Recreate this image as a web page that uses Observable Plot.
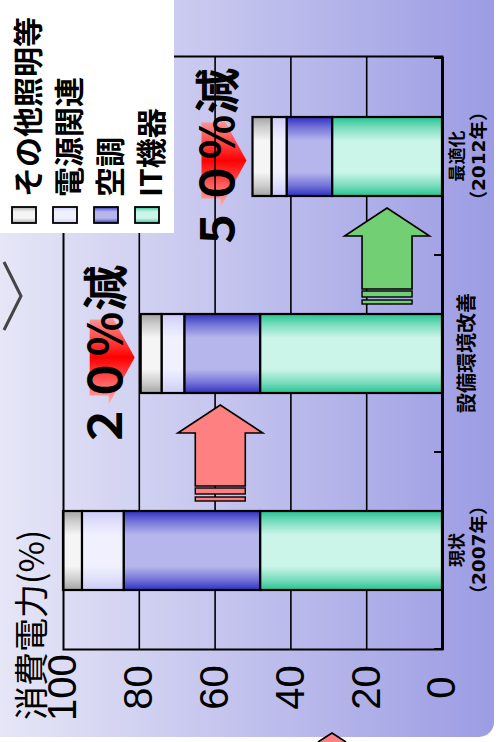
<!DOCTYPE html>
<html><head><meta charset="utf-8">
<script src="https://cdn.jsdelivr.net/npm/d3@7"></script>
<script src="https://cdn.jsdelivr.net/npm/@observablehq/plot@0.6"></script>
<style>
html,body{margin:0;padding:0;background:#fff;overflow:hidden;width:496px;height:742px;}
#wrap{position:absolute;left:0;top:0;width:742px;height:496px;transform-origin:0 0;transform:translate(0px,742px) rotate(-90deg);}
</style></head><body><div id="wrap"></div>
<script>
// ---------- data ----------
const categories = ["現状", "設備環境改善", "最適化"];
const categoryLine1 = ["現状", "設備環境改善", "最適化"];
const categoryLine2 = ["（2007年）", "", "（2012年）"];
const seriesNames = ["IT機器", "空調", "電源関連", "その他照明等"];
const itValues = [48, 48, 29];
const hvacValues = [36, 20, 12];
const powerValues = [11, 6, 4];
const otherValues = [5, 5.5, 5];
const yTicks = [0, 20, 40, 60, 80, 100];
const axisTitle = "消費電力(%)";
const reductionLabels = ["", "２０％減", "５０％減"];
const arrowFrom = ["現状", "設備環境改善"];
const arrowTo = ["設備環境改善", "最適化"];
const arrowLevels = [58.5, 14.5];

// ---------- derived tables ----------
const seriesValues = [itValues, hvacValues, powerValues, otherValues];
const rows = seriesNames.flatMap((s, si) => categories.map((c, ci) => ({category: c, series: s, value: seriesValues[si][ci]})));
const totals = categories.map((c, ci) => d3.sum(seriesValues, v => v[ci]));
const labelRows = categories.map((c, i) => ({c, l1: categoryLine1[i], l2: categoryLine2[i]}));
const reductionRows = categories.map((c, i) => ({c, label: reductionLabels[i], total: totals[i]})).filter(d => d.label);
const arrowRows = arrowFrom.map((f, i) => ({from: f, to: arrowTo[i], level: arrowLevels[i]}));

// ---------- styling ----------
const W = 742, H = 496, ML = 92, MR = 57, MT = 63, MB = 54;
const JP = "'Noto Sans CJK JP', 'Noto Sans', sans-serif";
const gradStops = [["#26c391", "#cbf5e9"], ["#3030c2", "#b6b6ed"], ["#cbcbf7", "#f0f0ff"], ["#a4a4a4", "#f5f5f5"]];
const arrowColors = ["#ff8080", "#73cf73"];

function bandInfo(x) {
  const bw = typeof x.bandwidth === "function" ? x.bandwidth() : 0.4 * (W - ML - MR) / 3;
  const step = typeof x.step === "function" ? x.step() : (W - ML - MR) / 3;
  return {bw, step};
}

function backgroundMark() {
  const g = d3.create("svg:g");
  const defs = g.append("defs");
  gradStops.forEach(([edge, mid], i) => {
    const lg = defs.append("linearGradient").attr("id", "g" + i).attr("x1", 0).attr("x2", 1).attr("y1", 0).attr("y2", 0);
    const m = d3.interpolateRgb(edge, mid)(0.5);
    [[0, edge], [0.13, m], [0.3, mid], [0.7, mid], [0.87, m], [1, edge]].forEach(([o, c]) => lg.append("stop").attr("offset", o).attr("stop-color", c));
  });
  const bg = defs.append("linearGradient").attr("id", "bg").attr("x1", 0).attr("x2", 0).attr("y1", 0).attr("y2", 1);
  bg.append("stop").attr("offset", 0).attr("stop-color", "#e6e6f7");
  bg.append("stop").attr("offset", 1).attr("stop-color", "#9c9ce4");
  const rg = defs.append("linearGradient").attr("id", "rg").attr("x1", 0).attr("x2", 1).attr("y1", 0).attr("y2", 0);
  [[0, "#ffb4b4"], [0.5, "#ff0000"], [1, "#ffb4b4"]].forEach(([o, c]) => rg.append("stop").attr("offset", o).attr("stop-color", c));
  g.append("path").attr("d", "M742,0 H5 V479 A15,15 0 0 0 20,494 H742 Z").attr("fill", "url(#bg)");
  return g.node();
}

function redArrowMark(index, scales) {
  const g = d3.create("svg:g");
  const x = scales.x, y = scales.y;
  const {bw} = bandInfo(x);
  reductionRows.forEach(d => {
    const cx = x(d.c) + bw / 2 - 4;
    const tip = y(d.total) - 6;
    const top = tip - 45, hb = tip - 26;
    g.append("path")
      .attr("d", `M${cx - 38},${top} L${cx + 38},${top} L${cx + 38},${hb} L${cx + 47},${hb} L${cx},${tip} L${cx - 47},${hb} L${cx - 38},${hb} Z`)
      .attr("fill", "url(#rg)");
  });
  return g.node();
}

function boundaryTickMark(index, scales) {
  const g = d3.create("svg:g");
  const x = scales.x, y = scales.y;
  const {bw, step} = bandInfo(x);
  const gap = (step - bw) / 2;
  const pos = categories.map(c => x(c) - gap).concat([x(categories[categories.length - 1]) + bw + gap]);
  pos.forEach(p => g.append("line").attr("x1", p).attr("x2", p).attr("y1", y(0)).attr("y2", y(0) - 8).attr("stroke", "black").attr("stroke-width", 2));
  return g.node();
}

function transitionArrowMark(index, scales) {
  const g = d3.create("svg:g");
  const x = scales.x, y = scales.y;
  const {bw} = bandInfo(x);
  arrowRows.forEach((d, i) => {
    const g0 = x(d.from) + bw, g1 = x(d.to);
    const cy = y(d.level);
    const tip = g1 - 12, hb = tip - 28, tail = g0 + 25;
    const col = arrowColors[i];
    g.append("path")
      .attr("d", `M${tail},${cy - 25} L${hb},${cy - 25} L${hb},${cy - 42.5} L${tip},${cy} L${hb},${cy + 42.5} L${hb},${cy + 25} L${tail},${cy + 25} Z`)
      .attr("fill", col).attr("stroke", "black").attr("stroke-width", 1.6).attr("stroke-linejoin", "miter");
    g.append("rect").attr("x", g0 + 17).attr("y", cy - 25).attr("width", 6).attr("height", 50)
      .attr("fill", col).attr("stroke", "black").attr("stroke-width", 1.4);
    g.append("rect").attr("x", g0 + 10).attr("y", cy - 25).attr("width", 4).attr("height", 50)
      .attr("fill", col).attr("stroke", "black").attr("stroke-width", 1.4);
  });
  return g.node();
}

function overlayMark() {
  const g = d3.create("svg:g").attr("text-anchor", "start");
  // fragments of neighbouring slide shapes
  g.append("path").attr("d", "M0,318 L9,332 L0,346").attr("fill", "#ff8080").attr("stroke", "black").attr("stroke-width", 1.5);
  g.append("path").attr("d", "M480,4 L446,21 L412,4").attr("fill", "none").attr("stroke", "#444").attr("stroke-width", 3);
  // axis title
  g.append("text").attr("x", 22).attr("y", 29).attr("dominant-baseline", "central").attr("text-anchor", "start")
    .attr("font-size", 34).attr("font-family", JP).attr("fill", "black").text(axisTitle);
  // legend
  g.append("rect").attr("x", 509).attr("y", 0).attr("width", 233).attr("height", 174).attr("fill", "white");
  [3, 2, 1, 0].forEach((si, k) => {
    const cy = 24 + 41 * k;
    g.append("rect").attr("x", 519).attr("y", cy - 12).attr("width", 16).attr("height", 24)
      .attr("fill", `url(#g${si})`).attr("stroke", "black").attr("stroke-width", 1.8);
    g.append("text").attr("x", 545).attr("y", cy + 2).attr("dominant-baseline", "central").attr("text-anchor", "start")
      .attr("font-size", 30).attr("font-weight", "bold").attr("font-family", JP).attr("fill", "black").text(seriesNames[si]);
  });
  return g.node();
}

const chart = Plot.plot({
  width: W, height: H,
  marginLeft: ML, marginRight: MR, marginTop: MT, marginBottom: MB,
  style: {background: "transparent", fontFamily: JP, overflow: "visible"},
  x: {domain: categories, paddingInner: 0.6, paddingOuter: 0.3, axis: null},
  y: {domain: [0, 100], axis: null},
  color: {type: "ordinal", domain: seriesNames, range: seriesNames.map((_, i) => `url(#g${i})`)},
  marks: [
    backgroundMark,
    redArrowMark,
    Plot.ruleY(yTicks.filter(t => t > 0 && t < 100), {stroke: "black", strokeWidth: 1.6}),
    Plot.barY(rows, Plot.stackY({x: "category", y: "value", z: "series", fill: "series", order: seriesNames, stroke: "black", strokeWidth: 2.2})),
    Plot.frame({stroke: "black", strokeWidth: 2}),
    Plot.ruleY([0], {stroke: "black", strokeWidth: 3}),
    boundaryTickMark,
    Plot.text(yTicks, {y: d => d, text: d => String(d), frameAnchor: "left", dx: -38, textAnchor: "middle",
      fontSize: 40, fontFamily: "'Liberation Sans', Arial, sans-serif", fill: "black", ariaLabel: "ytick"}),
    Plot.text(labelRows.filter(d => d.l2), {x: "c", text: "l1", frameAnchor: "bottom", dy: 20, fontSize: 17, fontWeight: "bold", fill: "black"}),
    Plot.text(labelRows.filter(d => d.l2), {x: "c", text: "l2", frameAnchor: "bottom", dy: 42, fontSize: 18.5, fontWeight: "bold", fill: "black",
      fontFamily: "'DejaVu Sans', 'Noto Sans CJK JP', sans-serif"}),
    Plot.text(labelRows.filter(d => !d.l2), {x: "c", text: "l1", frameAnchor: "bottom", dy: 31, fontSize: 20, fontWeight: "bold", fill: "black"}),
    Plot.text(reductionRows, {x: "c", y: "total", text: "label", dx: -4, dy: -34, fontSize: 46, fontWeight: "bold", fill: "black"}),
    transitionArrowMark,
    overlayMark
  ]
});

// condense the tick numerals (tall, narrow digits as in the original)
d3.select(chart).selectAll('g[aria-label="ytick"] text').each(function () {
  const el = d3.select(this);
  const sx = 0.7;
  const t = el.attr("transform") || "";
  const xa = el.attr("x");
  if (xa != null) el.attr("x", parseFloat(xa) / sx);
  el.attr("transform", t + ` scale(${sx},1)`);
});

document.getElementById("wrap").appendChild(chart);
</script></body></html>
